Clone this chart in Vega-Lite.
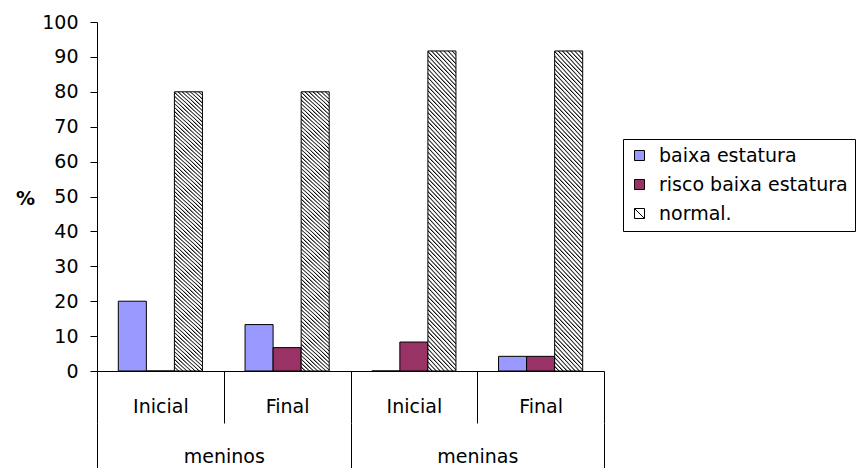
{
  "$schema": "https://vega.github.io/schema/vega-lite/v6.json",
  "width": 507,
  "height": 349,
  "autosize": {"type": "none"},
  "padding": {"left": 97, "top": 22, "right": 261, "bottom": 97},
  "background": "white",
  "config": {
    "view": {"stroke": null},
    "font": "DejaVu Sans",
    "axis": {
      "grid": false,
      "labelFont": "DejaVu Sans",
      "labelFontSize": 19,
      "labelColor": "black",
      "domainColor": "black",
      "tickColor": "black"
    },
    "legend": {
      "title": null,
      "orient": "none",
      "legendX": 526,
      "legendY": 117,
      "strokeColor": "black",
      "fillColor": "white",
      "padding": 7,
      "rowPadding": 9,
      "symbolSize": 100,
      "symbolOpacity": 1,
      "symbolStrokeWidth": 1,
      "labelFont": "DejaVu Sans",
      "labelFontSize": 19,
      "labelColor": "black",
      "labelOffset": 10,
      "labelLimit": 400
    }
  },
  "data": {
    "values": [
      {"sexo": "meninos", "grupo": "meninos Inicial", "serie": "baixa estatura", "pct": 20},
      {"sexo": "meninos", "grupo": "meninos Inicial", "serie": "risco baixa estatura", "pct": 0},
      {"sexo": "meninos", "grupo": "meninos Inicial", "serie": "normal.", "pct": 80},
      {"sexo": "meninos", "grupo": "meninos Final", "serie": "baixa estatura", "pct": 13.3},
      {"sexo": "meninos", "grupo": "meninos Final", "serie": "risco baixa estatura", "pct": 6.7},
      {"sexo": "meninos", "grupo": "meninos Final", "serie": "normal.", "pct": 80},
      {"sexo": "meninas", "grupo": "meninas Inicial", "serie": "baixa estatura", "pct": 0},
      {"sexo": "meninas", "grupo": "meninas Inicial", "serie": "risco baixa estatura", "pct": 8.3},
      {"sexo": "meninas", "grupo": "meninas Inicial", "serie": "normal.", "pct": 91.7},
      {"sexo": "meninas", "grupo": "meninas Final", "serie": "baixa estatura", "pct": 4.2},
      {"sexo": "meninas", "grupo": "meninas Final", "serie": "risco baixa estatura", "pct": 4.2},
      {"sexo": "meninas", "grupo": "meninas Final", "serie": "normal.", "pct": 91.7}
    ]
  },
  "layer": [
    {
      "mark": {"type": "bar", "stroke": "black", "strokeWidth": 1},
      "encoding": {
        "x": {
          "field": "grupo",
          "type": "nominal",
          "sort": ["meninos Inicial", "meninos Final", "meninas Inicial", "meninas Final"],
          "scale": {"paddingInner": 0, "paddingOuter": 0},
          "axis": {
            "title": null,
            "labelAngle": 0,
            "labelExpr": "split(datum.label, ' ')[1]",
            "tickBand": "extent",
            "tickSize": 52,
            "labelPadding": -11,
            "labelBaseline": "alphabetic"
          }
        },
        "xOffset": {
          "field": "serie",
          "sort": ["baixa estatura", "risco baixa estatura", "normal."],
          "scale": {"paddingInner": 0, "paddingOuter": 0.76}
        },
        "y": {
          "field": "pct",
          "type": "quantitative",
          "scale": {"domain": [0, 100]},
          "axis": {
            "values": [0, 10, 20, 30, 40, 50, 60, 70, 80, 90, 100],
            "tickSize": 7,
            "labelPadding": 12,
            "title": "%",
            "titleAngle": 0,
            "titleX": -72,
            "titleY": 176,
            "titleAlign": "center",
            "titleBaseline": "middle",
            "titleFont": "DejaVu Sans",
            "titleFontSize": 19,
            "titleFontWeight": "bold",
            "titleColor": "black"
          }
        },
        "fill": {
          "field": "serie",
          "type": "nominal",
          "sort": ["baixa estatura", "risco baixa estatura", "normal."],
          "scale": {
            "domain": ["baixa estatura", "risco baixa estatura", "normal."],
            "range": ["#9999FF", "#993366", "#ffffff"]
          },
          "condition": {
            "test": "datum.serie === 'normal.'",
            "value": {
              "gradient": "linear",
              "x1": 0, "y1": 1, "x2": 0.1012, "y2": -0.0839,
              "stops": [
                {"offset":0,"color":"#000"},{"offset":0.005,"color":"#fff"},{"offset":0.01,"color":"#fff"},
                {"offset":0.0125,"color":"#000"},{"offset":0.0175,"color":"#fff"},{"offset":0.0225,"color":"#fff"},
                {"offset":0.025,"color":"#000"},{"offset":0.03,"color":"#fff"},{"offset":0.035,"color":"#fff"},
                {"offset":0.0375,"color":"#000"},{"offset":0.0425,"color":"#fff"},{"offset":0.0475,"color":"#fff"},
                {"offset":0.05,"color":"#000"},{"offset":0.055,"color":"#fff"},{"offset":0.06,"color":"#fff"},
                {"offset":0.0625,"color":"#000"},{"offset":0.0675,"color":"#fff"},{"offset":0.0725,"color":"#fff"},
                {"offset":0.075,"color":"#000"},{"offset":0.08,"color":"#fff"},{"offset":0.085,"color":"#fff"},
                {"offset":0.0875,"color":"#000"},{"offset":0.0925,"color":"#fff"},{"offset":0.0975,"color":"#fff"},
                {"offset":0.1,"color":"#000"},{"offset":0.105,"color":"#fff"},{"offset":0.11,"color":"#fff"},
                {"offset":0.1125,"color":"#000"},{"offset":0.1175,"color":"#fff"},{"offset":0.1225,"color":"#fff"},
                {"offset":0.125,"color":"#000"},{"offset":0.13,"color":"#fff"},{"offset":0.135,"color":"#fff"},
                {"offset":0.1375,"color":"#000"},{"offset":0.1425,"color":"#fff"},{"offset":0.1475,"color":"#fff"},
                {"offset":0.15,"color":"#000"},{"offset":0.155,"color":"#fff"},{"offset":0.16,"color":"#fff"},
                {"offset":0.1625,"color":"#000"},{"offset":0.1675,"color":"#fff"},{"offset":0.1725,"color":"#fff"},
                {"offset":0.175,"color":"#000"},{"offset":0.18,"color":"#fff"},{"offset":0.185,"color":"#fff"},
                {"offset":0.1875,"color":"#000"},{"offset":0.1925,"color":"#fff"},{"offset":0.1975,"color":"#fff"},
                {"offset":0.2,"color":"#000"},{"offset":0.205,"color":"#fff"},{"offset":0.21,"color":"#fff"},
                {"offset":0.2125,"color":"#000"},{"offset":0.2175,"color":"#fff"},{"offset":0.2225,"color":"#fff"},
                {"offset":0.225,"color":"#000"},{"offset":0.23,"color":"#fff"},{"offset":0.235,"color":"#fff"},
                {"offset":0.2375,"color":"#000"},{"offset":0.2425,"color":"#fff"},{"offset":0.2475,"color":"#fff"},
                {"offset":0.25,"color":"#000"},{"offset":0.255,"color":"#fff"},{"offset":0.26,"color":"#fff"},
                {"offset":0.2625,"color":"#000"},{"offset":0.2675,"color":"#fff"},{"offset":0.2725,"color":"#fff"},
                {"offset":0.275,"color":"#000"},{"offset":0.28,"color":"#fff"},{"offset":0.285,"color":"#fff"},
                {"offset":0.2875,"color":"#000"},{"offset":0.2925,"color":"#fff"},{"offset":0.2975,"color":"#fff"},
                {"offset":0.3,"color":"#000"},{"offset":0.305,"color":"#fff"},{"offset":0.31,"color":"#fff"},
                {"offset":0.3125,"color":"#000"},{"offset":0.3175,"color":"#fff"},{"offset":0.3225,"color":"#fff"},
                {"offset":0.325,"color":"#000"},{"offset":0.33,"color":"#fff"},{"offset":0.335,"color":"#fff"},
                {"offset":0.3375,"color":"#000"},{"offset":0.3425,"color":"#fff"},{"offset":0.3475,"color":"#fff"},
                {"offset":0.35,"color":"#000"},{"offset":0.355,"color":"#fff"},{"offset":0.36,"color":"#fff"},
                {"offset":0.3625,"color":"#000"},{"offset":0.3675,"color":"#fff"},{"offset":0.3725,"color":"#fff"},
                {"offset":0.375,"color":"#000"},{"offset":0.38,"color":"#fff"},{"offset":0.385,"color":"#fff"},
                {"offset":0.3875,"color":"#000"},{"offset":0.3925,"color":"#fff"},{"offset":0.3975,"color":"#fff"},
                {"offset":0.4,"color":"#000"},{"offset":0.405,"color":"#fff"},{"offset":0.41,"color":"#fff"},
                {"offset":0.4125,"color":"#000"},{"offset":0.4175,"color":"#fff"},{"offset":0.4225,"color":"#fff"},
                {"offset":0.425,"color":"#000"},{"offset":0.43,"color":"#fff"},{"offset":0.435,"color":"#fff"},
                {"offset":0.4375,"color":"#000"},{"offset":0.4425,"color":"#fff"},{"offset":0.4475,"color":"#fff"},
                {"offset":0.45,"color":"#000"},{"offset":0.455,"color":"#fff"},{"offset":0.46,"color":"#fff"},
                {"offset":0.4625,"color":"#000"},{"offset":0.4675,"color":"#fff"},{"offset":0.4725,"color":"#fff"},
                {"offset":0.475,"color":"#000"},{"offset":0.48,"color":"#fff"},{"offset":0.485,"color":"#fff"},
                {"offset":0.4875,"color":"#000"},{"offset":0.4925,"color":"#fff"},{"offset":0.4975,"color":"#fff"},
                {"offset":0.5,"color":"#000"},{"offset":0.505,"color":"#fff"},{"offset":0.51,"color":"#fff"},
                {"offset":0.5125,"color":"#000"},{"offset":0.5175,"color":"#fff"},{"offset":0.5225,"color":"#fff"},
                {"offset":0.525,"color":"#000"},{"offset":0.53,"color":"#fff"},{"offset":0.535,"color":"#fff"},
                {"offset":0.5375,"color":"#000"},{"offset":0.5425,"color":"#fff"},{"offset":0.5475,"color":"#fff"},
                {"offset":0.55,"color":"#000"},{"offset":0.555,"color":"#fff"},{"offset":0.56,"color":"#fff"},
                {"offset":0.5625,"color":"#000"},{"offset":0.5675,"color":"#fff"},{"offset":0.5725,"color":"#fff"},
                {"offset":0.575,"color":"#000"},{"offset":0.58,"color":"#fff"},{"offset":0.585,"color":"#fff"},
                {"offset":0.5875,"color":"#000"},{"offset":0.5925,"color":"#fff"},{"offset":0.5975,"color":"#fff"},
                {"offset":0.6,"color":"#000"},{"offset":0.605,"color":"#fff"},{"offset":0.61,"color":"#fff"},
                {"offset":0.6125,"color":"#000"},{"offset":0.6175,"color":"#fff"},{"offset":0.6225,"color":"#fff"},
                {"offset":0.625,"color":"#000"},{"offset":0.63,"color":"#fff"},{"offset":0.635,"color":"#fff"},
                {"offset":0.6375,"color":"#000"},{"offset":0.6425,"color":"#fff"},{"offset":0.6475,"color":"#fff"},
                {"offset":0.65,"color":"#000"},{"offset":0.655,"color":"#fff"},{"offset":0.66,"color":"#fff"},
                {"offset":0.6625,"color":"#000"},{"offset":0.6675,"color":"#fff"},{"offset":0.6725,"color":"#fff"},
                {"offset":0.675,"color":"#000"},{"offset":0.68,"color":"#fff"},{"offset":0.685,"color":"#fff"},
                {"offset":0.6875,"color":"#000"},{"offset":0.6925,"color":"#fff"},{"offset":0.6975,"color":"#fff"},
                {"offset":0.7,"color":"#000"},{"offset":0.705,"color":"#fff"},{"offset":0.71,"color":"#fff"},
                {"offset":0.7125,"color":"#000"},{"offset":0.7175,"color":"#fff"},{"offset":0.7225,"color":"#fff"},
                {"offset":0.725,"color":"#000"},{"offset":0.73,"color":"#fff"},{"offset":0.735,"color":"#fff"},
                {"offset":0.7375,"color":"#000"},{"offset":0.7425,"color":"#fff"},{"offset":0.7475,"color":"#fff"},
                {"offset":0.75,"color":"#000"},{"offset":0.755,"color":"#fff"},{"offset":0.76,"color":"#fff"},
                {"offset":0.7625,"color":"#000"},{"offset":0.7675,"color":"#fff"},{"offset":0.7725,"color":"#fff"},
                {"offset":0.775,"color":"#000"},{"offset":0.78,"color":"#fff"},{"offset":0.785,"color":"#fff"},
                {"offset":0.7875,"color":"#000"},{"offset":0.7925,"color":"#fff"},{"offset":0.7975,"color":"#fff"},
                {"offset":0.8,"color":"#000"},{"offset":0.805,"color":"#fff"},{"offset":0.81,"color":"#fff"},
                {"offset":0.8125,"color":"#000"},{"offset":0.8175,"color":"#fff"},{"offset":0.8225,"color":"#fff"},
                {"offset":0.825,"color":"#000"},{"offset":0.83,"color":"#fff"},{"offset":0.835,"color":"#fff"},
                {"offset":0.8375,"color":"#000"},{"offset":0.8425,"color":"#fff"},{"offset":0.8475,"color":"#fff"},
                {"offset":0.85,"color":"#000"},{"offset":0.855,"color":"#fff"},{"offset":0.86,"color":"#fff"},
                {"offset":0.8625,"color":"#000"},{"offset":0.8675,"color":"#fff"},{"offset":0.8725,"color":"#fff"},
                {"offset":0.875,"color":"#000"},{"offset":0.88,"color":"#fff"},{"offset":0.885,"color":"#fff"},
                {"offset":0.8875,"color":"#000"},{"offset":0.8925,"color":"#fff"},{"offset":0.8975,"color":"#fff"},
                {"offset":0.9,"color":"#000"},{"offset":0.905,"color":"#fff"},{"offset":0.91,"color":"#fff"},
                {"offset":0.9125,"color":"#000"},{"offset":0.9175,"color":"#fff"},{"offset":0.9225,"color":"#fff"},
                {"offset":0.925,"color":"#000"},{"offset":0.93,"color":"#fff"},{"offset":0.935,"color":"#fff"},
                {"offset":0.9375,"color":"#000"},{"offset":0.9425,"color":"#fff"},{"offset":0.9475,"color":"#fff"},
                {"offset":0.95,"color":"#000"},{"offset":0.955,"color":"#fff"},{"offset":0.96,"color":"#fff"},
                {"offset":0.9625,"color":"#000"},{"offset":0.9675,"color":"#fff"},{"offset":0.9725,"color":"#fff"},
                {"offset":0.975,"color":"#000"},{"offset":0.98,"color":"#fff"},{"offset":0.985,"color":"#fff"},
                {"offset":0.9875,"color":"#000"},{"offset":0.9925,"color":"#fff"},{"offset":0.9975,"color":"#fff"},
                {"offset":1,"color":"#000"}
              ]
            }
          }
        }
      }
    },
    {
      "mark": {"type": "point", "filled": true, "opacity": 0, "strokeWidth": 1},
      "encoding": {
        "fill": {
          "field": "serie",
          "type": "nominal",
          "sort": ["baixa estatura", "risco baixa estatura", "normal."]
        },
        "stroke": {
          "field": "serie",
          "type": "nominal",
          "sort": ["baixa estatura", "risco baixa estatura", "normal."],
          "scale": {
            "domain": ["baixa estatura", "risco baixa estatura", "normal."],
            "range": ["#000000", "#000000", "#000000"]
          }
        },
        "shape": {
          "field": "serie",
          "type": "nominal",
          "sort": ["baixa estatura", "risco baixa estatura", "normal."],
          "scale": {
            "domain": ["baixa estatura", "risco baixa estatura", "normal."],
            "range": ["square", "square", "M-1,-1H1V1H-1ZM-1,-1L1,1"]
          }
        }
      }
    },
    {
      "mark": {"type": "tick", "opacity": 0},
      "encoding": {
        "x": {
          "field": "sexo",
          "type": "nominal",
          "sort": ["meninos", "meninas"],
          "scale": {"type": "band", "paddingInner": 0, "paddingOuter": 0},
          "axis": {
            "orient": "bottom",
            "offset": 52,
            "domain": false,
            "title": null,
            "labelAngle": 0,
            "tickBand": "extent",
            "tickSize": 45,
            "labelPadding": -6,
            "labelBaseline": "alphabetic"
          }
        }
      }
    }
  ],
  "resolve": {"scale": {"x": "independent"}, "axis": {"x": "independent"}}
}
